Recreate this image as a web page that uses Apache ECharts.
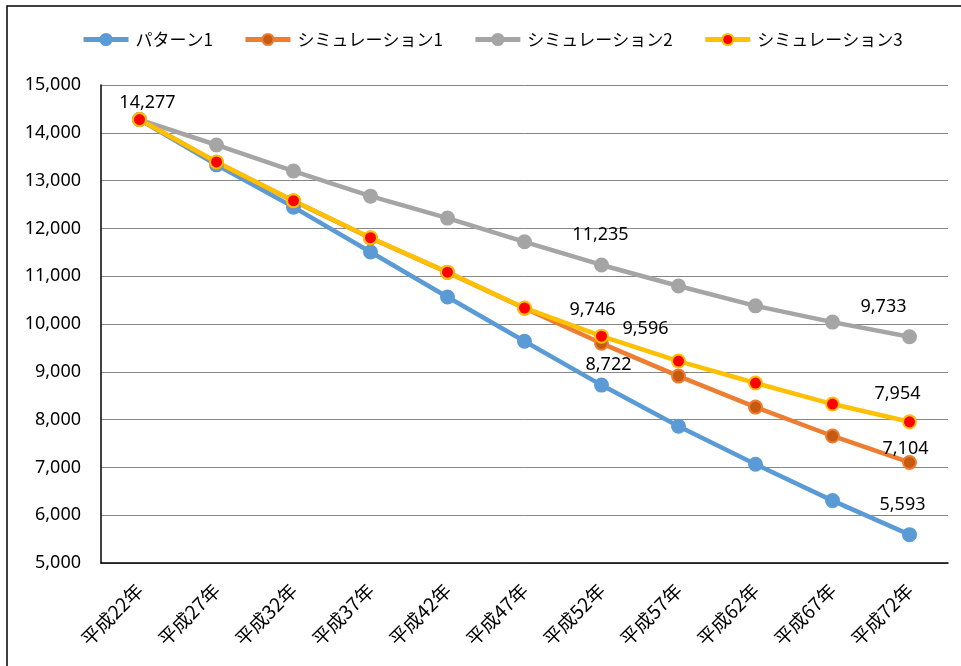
<!DOCTYPE html>
<html>
<head>
<meta charset="utf-8">
<script src="https://cdn.jsdelivr.net/npm/echarts@6/dist/echarts.min.js"></script>
<style>
  html, body { margin: 0; padding: 0; background: #fff; }
  #chart { width: 961px; height: 666px; }
</style>
</head>
<body>
<div id="chart"></div>
<script>
// Population projection by year (平成22年 – 平成72年)
const categories = ['平成22年', '平成27年', '平成32年', '平成37年', '平成42年', '平成47年',
                    '平成52年', '平成57年', '平成62年', '平成67年', '平成72年'];
const pattern1 = [14277, 13330, 12445, 11505, 10565, 9640, 8722, 7860, 7065, 6305, 5593];
const sim1     = [14277, 13385, 12575, 11800, 11080, 10330, 9596, 8910, 8262, 7657, 7104];
const sim2     = [14277, 13745, 13200, 12675, 12215, 11720, 11235, 10795, 10380, 10040, 9733];
const sim3     = [14277, 13390, 12580, 11805, 11085, 10335, 9746, 9225, 8765, 8325, 7954];
const yTicks   = { min: 5000, max: 15000, interval: 1000 };

const fmt = v => Number(v).toLocaleString('en-US');

// Where each value label sits relative to its point (pixel offset of label centre)
const labelSpots = {
  pattern1: { 6: [7, -20], 10: [-7, -30] },
  sim1:     { 6: [44, -14], 10: [-4, -14] },
  sim2:     { 6: [-1, -30], 10: [-26, -30] },
  sim3:     { 0: [8, -17], 6: [-9, -26], 10: [-12, -28] }
};

function withLabels(values, spots) {
  return values.map((v, i) => spots[i]
    ? { value: v, label: { show: true, offset: spots[i] } }
    : v);
}

function lineSeries(name, values, spots, lineColor, markFill, markBorder) {
  return {
    name: name,
    type: 'line',
    data: withLabels(values, spots),
    symbol: 'circle',
    symbolSize: 13,
    showAllSymbol: true,
    lineStyle: { color: lineColor, width: 4.5 },
    itemStyle: { color: markFill, borderColor: markBorder, borderWidth: 2 },
    emphasis: { disabled: true },
    label: {
      show: false,
      position: 'inside',
      align: 'center',
      verticalAlign: 'middle',
      color: '#000',
      fontFamily: 'Noto Sans',
      fontSize: 18,
      formatter: p => fmt(p.value)
    }
  };
}

const chart = echarts.init(document.getElementById('chart'), null, { renderer: 'canvas' });
chart.setOption({
  animation: false,
  backgroundColor: '#fff',
  graphic: [{
    type: 'rect',
    shape: { x: 7, y: 6, width: 1000, height: 700 },
    style: { fill: 'none', stroke: '#000', lineWidth: 1.5 },
    silent: true
  }],
  legend: {
    top: 26,
    left: 76,
    itemWidth: 45,
    itemHeight: 14,
    itemGap: 30,
    lineStyle: { width: 5 },
    textStyle: { fontFamily: 'Noto Sans CJK JP', fontSize: 17, color: '#000', padding: [0, 0, 0, 2] },
    data: ['パターン1', 'シミュレーション1', 'シミュレーション2', 'シミュレーション3']
  },
  grid: { left: 101, right: 13, top: 85, bottom: 103, containLabel: false },
  xAxis: {
    type: 'category',
    data: categories,
    boundaryGap: true,
    axisLine: { lineStyle: { color: '#000', width: 1.5 } },
    axisTick: { show: false },
    axisLabel: {
      rotate: 45,
      margin: 24,
      fontFamily: 'Noto Sans CJK JP',
      fontSize: 19,
      color: '#000',
      interval: 0
    },
    splitLine: { show: false }
  },
  yAxis: {
    type: 'value',
    min: yTicks.min,
    max: yTicks.max,
    interval: yTicks.interval,
    axisLine: { show: true, lineStyle: { color: '#000', width: 1.5 } },
    axisTick: { show: false },
    axisLabel: {
      margin: 20,
      fontFamily: 'Noto Sans',
      fontSize: 18,
      color: '#000',
      formatter: v => fmt(v)
    },
    splitLine: { lineStyle: { color: '#868686', width: 1 } }
  },
  series: [
    lineSeries('パターン1', pattern1, labelSpots.pattern1, '#5B9BD5', '#5B9BD5', '#5B9BD5'),
    lineSeries('シミュレーション1', sim1, labelSpots.sim1, '#ED7D31', '#C55A11', '#ED7D31'),
    lineSeries('シミュレーション2', sim2, labelSpots.sim2, '#A5A5A5', '#A5A5A5', '#A5A5A5'),
    lineSeries('シミュレーション3', sim3, labelSpots.sim3, '#FFC000', '#FF0000', '#FFC000')
  ]
});
</script>
</body>
</html>
